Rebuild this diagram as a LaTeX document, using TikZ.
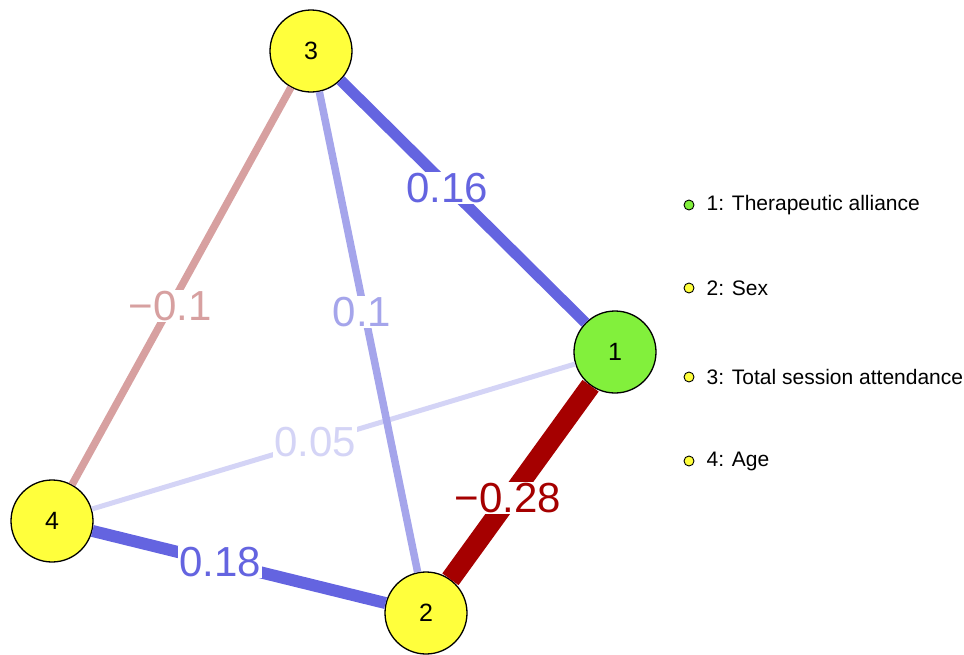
\documentclass[tikz,border=0pt]{standalone}
\usepackage{fontspec}
\setmainfont{Liberation Sans}
\usepackage{xcolor}
\usepackage{tikz}
\usetikzlibrary{positioning,calc}

\definecolor{nodeyellow}{RGB}{255,255,60}
\definecolor{nodegreen}{RGB}{130,240,60}
\definecolor{posstrong}{RGB}{100,100,224}
\definecolor{posmid}{RGB}{165,165,235}
\definecolor{poslight}{RGB}{212,212,246}
\definecolor{negstrong}{RGB}{165,0,0}
\definecolor{neglight}{RGB}{215,160,160}

\begin{document}
\begin{tikzpicture}[x=1pt,y=-1pt,
    var/.style={circle, draw=black, line width=1.3pt, minimum size=82pt, inner sep=0pt, font=\fontsize{25}{25}\selectfont},
    wlabel/.style={fill=white, inner sep=1pt, font=\fontsize{42}{42}\selectfont},
    keydot/.style={circle, draw=black, line width=0.9pt, minimum size=10pt, inner sep=0pt},
    keytext/.style={font=\fontsize{21}{21}\selectfont, inner sep=0pt}]
    \useasboundingbox (0,0) rectangle (964,654);

    % Variables
    \node[var, fill=nodegreen] (v1) at (615,352) {1};
    \node[var, fill=nodeyellow] (v2) at (426,613) {2};
    \node[var, fill=nodeyellow] (v3) at (311,51) {3};
    \node[var, fill=nodeyellow] (v4) at (52,521) {4};

    % Partial correlations
    \draw[poslight, line width=5pt] (v1) -- (v4);
    \draw[neglight, line width=7.5pt] (v3) -- (v4);
    \draw[posmid, line width=7.5pt] (v3) -- (v2);
    \draw[posstrong, line width=11pt] (v3) -- (v1);
    \draw[posstrong, line width=12pt] (v4) -- (v2);
    \draw[negstrong, line width=20pt] (v1) -- (v2);

    % Weights
    \node[wlabel, text=posstrong] (w31) at (447,188) {0.16};
    \node[wlabel, text=neglight] (w34) at (170,306) {−0.1};
    \node[wlabel, text=posmid] (w32) at (362,312) {0.1};
    \node[wlabel, text=poslight] (w14) at (315,442) {0.05};
    \node[wlabel, text=negstrong] (w12) at (508,498) {−0.28};
    \node[wlabel, text=posstrong] (w42) at (220,562) {0.18};

    % Legend
    \foreach \y/\c/\l [count=\i] in {205/nodegreen/Therapeutic alliance, 288/nodeyellow/Sex,
        377/nodeyellow/Total session attendance, 461/nodeyellow/Age} {
        \node[keydot, fill=\c] (key\i) at (689,\y) {};
        \node[keytext] (keylab\i) [right=12pt of key\i] {\i: \l};
    }
\end{tikzpicture}
\end{document}
